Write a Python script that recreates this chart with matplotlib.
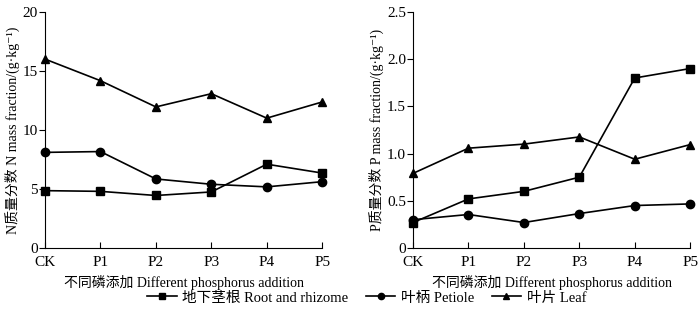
import matplotlib
matplotlib.use('Agg')
import matplotlib.pyplot as plt

plt.rcParams['font.family'] = ['Liberation Serif', 'Noto Sans CJK SC', 'DejaVu Sans']

treatments = ['CK', 'P1', 'P2', 'P3', 'P4', 'P5']

# N mass fraction (g/kg)
n_root = [4.86, 4.8, 4.45, 4.75, 7.1, 6.35]
n_petiole = [8.1, 8.17, 5.85, 5.4, 5.18, 5.62]
n_leaf = [16.0, 14.17, 11.95, 13.07, 11.0, 12.37]

# P mass fraction (g/kg)
p_root = [0.27, 0.52, 0.6, 0.75, 1.8, 1.9]
p_petiole = [0.3, 0.355, 0.27, 0.365, 0.45, 0.467]
p_leaf = [0.79, 1.057, 1.1, 1.176, 0.94, 1.095]

names = ['地下茎根 Root and rhizome', '叶柄 Petiole', '叶片 Leaf']
markers = ['s', 'o', '^']

fig = plt.figure(figsize=(7, 3.12), dpi=100)
ax1 = fig.add_axes([0.0643, 0.205, 0.396, 0.757])
ax2 = fig.add_axes([0.59, 0.205, 0.396, 0.757])


def draw(ax, series, ymax, yticks, yticklabels, ylabel):
    x = range(len(treatments))
    lines = []
    for vals, m, name in zip(series, markers, names):
        ln, = ax.plot(x, vals, color='black', lw=1.2, marker=m, ms=6,
                      clip_on=False, label=name)
        lines.append(ln)
    ax.set_xlim(0, 5)
    ax.set_ylim(0, ymax)
    ax.set_xticks(list(x))
    ax.set_xticklabels(treatments, fontsize=11)
    ax.set_yticks(yticks)
    ax.set_yticklabels(yticklabels, fontsize=11)
    ax.spines['top'].set_visible(False)
    ax.spines['right'].set_visible(False)
    ax.tick_params(axis='x', direction='in', length=4, pad=6)
    ax.tick_params(axis='y', direction='out', length=4, pad=1)
    ax.set_xlabel('不同磷添加 Different phosphorus addition', fontsize=10, labelpad=4)
    ax.set_ylabel(ylabel, fontsize=10, labelpad=2)
    return lines


lines = draw(ax1, [n_root, n_petiole, n_leaf], 20, [0, 5, 10, 15, 20],
             ['0', '5', '10', '15', '20'],
             'N质量分数 N mass fraction/(g·kg⁻¹)')
draw(ax2, [p_root, p_petiole, p_leaf], 2.5, [0, 0.5, 1.0, 1.5, 2.0, 2.5],
     ['0', '0.5', '1.0', '1.5', '2.0', '2.5'],
     'P质量分数 P mass fraction/(g·kg⁻¹)')

fig.legend(handles=lines, loc='center', bbox_to_anchor=(0.524, 0.045), ncol=3,
           frameon=False, fontsize=10.5, handlelength=2.0, handletextpad=0.4,
           columnspacing=1.2, markerscale=0.75)

fig.savefig('out.png', dpi=100)
